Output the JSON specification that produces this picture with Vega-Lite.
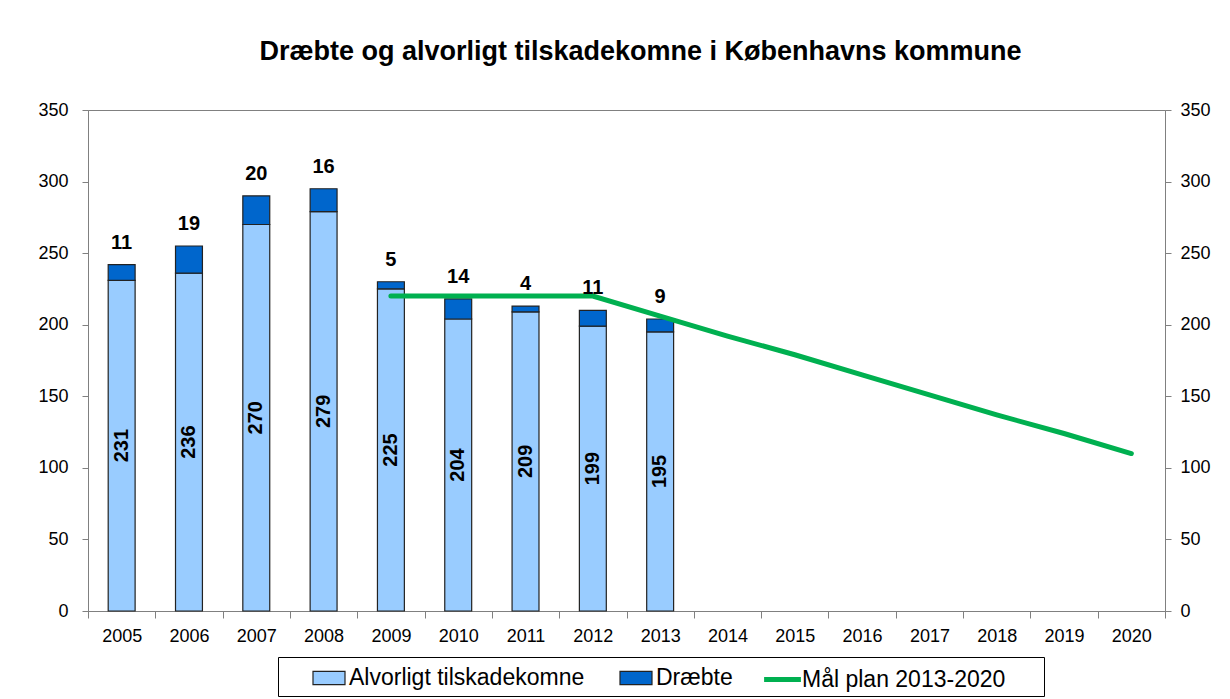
{
  "$schema": "https://vega.github.io/schema/vega-lite/v6.json",
  "autosize": "none",
  "width": 1077,
  "height": 501,
  "padding": {"left": 88, "top": 110, "right": 65, "bottom": 88},
  "background": "white",
  "config": {
    "font": "Liberation Sans",
    "view": {"stroke": "#808080", "strokeWidth": 1},
    "axis": {"labelFont": "Liberation Sans", "labelFontSize": 18, "labelColor": "black", "domainColor": "#808080", "tickColor": "#808080", "grid": false, "title": null}
  },
  "title": {
    "text": "Dræbte og alvorligt tilskadekomne i Københavns kommune",
    "font": "Liberation Sans", "fontSize": 27, "fontWeight": "bold", "color": "black",
    "anchor": "middle", "baseline": "alphabetic", "offset": 14, "dx": 14
  },
  "data": {
    "values": [
      {"year": 2005, "series": "Alvorligt tilskadekomne", "value": 231},
      {"year": 2005, "series": "Dræbte", "value": 11},
      {"year": 2006, "series": "Alvorligt tilskadekomne", "value": 236},
      {"year": 2006, "series": "Dræbte", "value": 19},
      {"year": 2007, "series": "Alvorligt tilskadekomne", "value": 270},
      {"year": 2007, "series": "Dræbte", "value": 20},
      {"year": 2008, "series": "Alvorligt tilskadekomne", "value": 279},
      {"year": 2008, "series": "Dræbte", "value": 16},
      {"year": 2009, "series": "Alvorligt tilskadekomne", "value": 225},
      {"year": 2009, "series": "Dræbte", "value": 5},
      {"year": 2010, "series": "Alvorligt tilskadekomne", "value": 204},
      {"year": 2010, "series": "Dræbte", "value": 14},
      {"year": 2011, "series": "Alvorligt tilskadekomne", "value": 209},
      {"year": 2011, "series": "Dræbte", "value": 4},
      {"year": 2012, "series": "Alvorligt tilskadekomne", "value": 199},
      {"year": 2012, "series": "Dræbte", "value": 11},
      {"year": 2013, "series": "Alvorligt tilskadekomne", "value": 195},
      {"year": 2013, "series": "Dræbte", "value": 9},
      {"year": 2009, "series": "Mål plan 2013-2020", "value": 220},
      {"year": 2010, "series": "Mål plan 2013-2020", "value": 220},
      {"year": 2011, "series": "Mål plan 2013-2020", "value": 220},
      {"year": 2012, "series": "Mål plan 2013-2020", "value": 220},
      {"year": 2013, "series": "Mål plan 2013-2020", "value": 206},
      {"year": 2014, "series": "Mål plan 2013-2020", "value": 192},
      {"year": 2015, "series": "Mål plan 2013-2020", "value": 179},
      {"year": 2016, "series": "Mål plan 2013-2020", "value": 165},
      {"year": 2017, "series": "Mål plan 2013-2020", "value": 151},
      {"year": 2018, "series": "Mål plan 2013-2020", "value": 137},
      {"year": 2019, "series": "Mål plan 2013-2020", "value": 124},
      {"year": 2020, "series": "Mål plan 2013-2020", "value": 110}
    ]
  },
  "resolve": {"scale": {"y": "independent"}, "axis": {"y": "independent"}},
  "layer": [
    {
      "transform": [{"filter": "datum.series !== 'Mål plan 2013-2020'"}],
      "mark": {"type": "bar", "width": {"band": 0.4}, "stroke": "#222222", "strokeWidth": 1.2},
      "encoding": {
        "x": {"field": "year", "type": "ordinal",
          "scale": {"domain": [2005, 2006, 2007, 2008, 2009, 2010, 2011, 2012, 2013, 2014, 2015, 2016, 2017, 2018, 2019, 2020], "paddingInner": 0, "paddingOuter": 0},
          "axis": {"labelAngle": 0, "tickBand": "extent", "tickSize": 7, "labelPadding": 9, "domainColor": "#808080"}},
        "y": {"field": "value", "type": "quantitative", "stack": "zero",
          "scale": {"domain": [0, 350], "nice": false},
          "axis": {"orient": "left", "values": [0, 50, 100, 150, 200, 250, 300, 350], "tickSize": 6, "labelPadding": 14}},
        "order": {"field": "series", "type": "nominal", "sort": "ascending"},
        "color": {"field": "series", "type": "nominal",
          "scale": {"domain": ["Alvorligt tilskadekomne", "Dræbte"], "range": ["#99CCFF", "#0066CC"]},
          "legend": {
            "orient": "none", "legendX": 220, "legendY": 547, "direction": "horizontal", "title": null,
            "labelFont": "Liberation Sans", "labelFontSize": 23, "labelColor": "black", "labelLimit": 0,
            "padding": 4, "columnPadding": 32, "labelOffset": 3,
            "symbolType": "M-1,-0.41H1V0.41H-1Z", "symbolSize": 1024,
            "symbolStrokeColor": "#222222", "symbolStrokeWidth": 1.2, "symbolOpacity": 1
          }}
      }
    },
    {
      "transform": [{"filter": "datum.series === 'Mål plan 2013-2020'"}],
      "mark": {"type": "line", "strokeWidth": 5, "strokeCap": "round"},
      "encoding": {
        "x": {"field": "year", "type": "ordinal"},
        "y": {"field": "value", "type": "quantitative",
          "scale": {"domain": [0, 350], "nice": false},
          "axis": {"orient": "right", "values": [0, 50, 100, 150, 200, 250, 300, 350], "tickSize": 6, "labelPadding": 9}},
        "stroke": {"field": "series", "type": "nominal",
          "scale": {"domain": ["Mål plan 2013-2020"], "range": ["#00B050"]},
          "legend": {
            "orient": "none", "legendX": 190, "legendY": 547, "direction": "horizontal",
            "title": "\u00a0", "titleOrient": "left", "titleFontSize": 12, "titlePadding": 482,
            "labelFont": "Liberation Sans", "labelFontSize": 23, "labelColor": "black", "labelLimit": 0,
            "labelExpr": "datum.label + '\u2800\u2800'",
            "strokeColor": "black", "padding": 4, "labelOffset": 1,
            "symbolType": "M-1.15,0H1.15", "symbolSize": 1024, "symbolStrokeWidth": 5, "symbolOpacity": 1
          }}
      }
    },
    {
      "transform": [
        {"filter": "datum.series !== 'Mål plan 2013-2020'"},
        {"stack": "value", "groupby": ["year"], "sort": [{"field": "series", "order": "ascending"}], "as": ["v0", "v1"]},
        {"filter": "datum.series === 'Dræbte'"}
      ],
      "mark": {"type": "text", "fontSize": 20, "fontWeight": "bold", "baseline": "alphabetic", "dy": -16, "color": "black", "font": "Liberation Sans"},
      "encoding": {
        "x": {"field": "year", "type": "ordinal"},
        "y": {"field": "v1", "type": "quantitative", "scale": {"domain": [0, 350], "nice": false}, "axis": null},
        "text": {"field": "value", "type": "quantitative"}
      }
    },
    {
      "transform": [{"filter": "datum.series === 'Alvorligt tilskadekomne'"}],
      "mark": {"type": "text", "fontSize": 20, "fontWeight": "bold", "angle": 270, "baseline": "middle", "align": "center", "color": "black", "font": "Liberation Sans"},
      "encoding": {
        "x": {"field": "year", "type": "ordinal"},
        "y": {"field": "value", "type": "quantitative", "scale": {"domain": [0, 700], "nice": false}, "axis": null},
        "text": {"field": "value", "type": "quantitative"}
      }
    }
  ]
}
